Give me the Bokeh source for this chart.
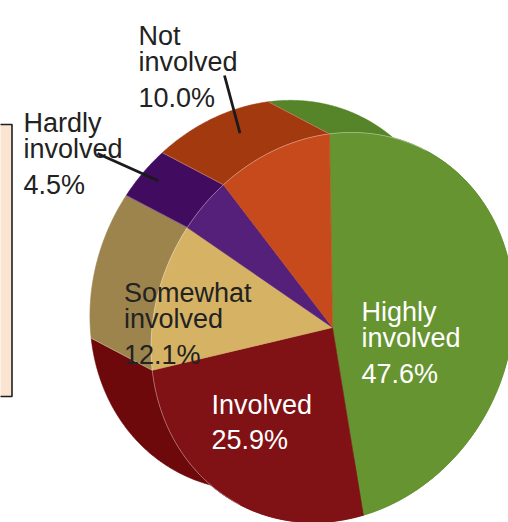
import math
import numpy as np
from bokeh.plotting import figure
from bokeh.models import Range1d, ColumnDataSource
from bokeh.embed import file_html
from bokeh.resources import INLINE
from bokeh.core.properties import value

# ---------------- data ----------------
categories = ["Highly involved", "Involved", "Somewhat involved", "Hardly involved", "Not involved"]
shares = [47.6, 25.9, 12.1, 4.5, 10.0]

# ---------------- style ----------------
top_colors = ["#669430", "#801216", "#D5B264", "#55207A", "#C74A1C"]
side_colors = ["#568428", "#6D090B", "#9C844C", "#410C5F", "#A2390F"]
label_colors = ["#ffffff", "#ffffff", "#222222", "#222222", "#222222"]
# label anchor (x, first baseline) in page pixels
label_pos = [(361, 311), (211, 404), (123.5, 292), (23, 122), (138, 35)]
LINE_GAP = 26.5
PCT_GAP = 35.5
FONT = "Liberation Sans"
FONT_SIZE = "27px"

# 3-D view of the pie (centre, ellipse radii, tilt, depth)
CX, CY = 332.0, 327.0
RA, RB = 200.0, 176.0
TILT = math.radians(27.7)
UX, UY = math.sin(TILT), -math.cos(TILT)
VX, VY = -math.cos(TILT), -math.sin(TILT)
PSI0 = 31.8
DEPTH = 69.0
DX, DY = DEPTH * VX, DEPTH * VY


def face_pt(phi):
    psi = np.radians(PSI0 - np.asarray(phi, dtype=float))
    x = CX + RA * np.cos(psi) * UX + RB * np.sin(psi) * VX
    y = CY + RA * np.cos(psi) * UY + RB * np.sin(psi) * VY
    return x, y


total = float(sum(shares))
cum = np.concatenate([[0.0], np.cumsum(shares)]) * 360.0 / total
starts, ends = cum[:-1], cum[1:]

p = figure(width=508, height=522, output_backend="svg", toolbar_location=None,
           x_range=Range1d(0, 508), y_range=Range1d(522, 0),
           x_axis_location=None, y_axis_location=None, min_border=0)
p.grid.visible = False
p.outline_line_color = None
p.background_fill_color = "#ffffff"
p.border_fill_color = "#ffffff"

# left panel edge (part of a neighbouring box)
p.quad(left=-20, right=11.5, top=124, bottom=396, fill_color="#FAE5D3",
       line_color="#1f1f1f", line_width=1.6)

# sides of the extruded pie
side_xs, side_ys = [], []
for a0, a1 in zip(starts, ends):
    n = max(int((a1 - a0) * 2), 8)
    ph = np.linspace(a0, a1, n)
    fx, fy = face_pt(ph)
    side_xs.append(list(np.concatenate([fx, (fx + DX)[::-1]])))
    side_ys.append(list(np.concatenate([fy, (fy + DY)[::-1]])))
p.patches(side_xs, side_ys, fill_color=side_colors, line_color=side_colors, line_width=0.6)

# faint edges on the side at slice boundaries (visible back half only)
ex0, ey0, ex1, ey1 = [], [], [], []
for b in starts:
    if math.sin(math.radians(PSI0 - b)) > 0:
        bx, by = face_pt(b)
        ex0.append(float(bx)); ey0.append(float(by))
        ex1.append(float(bx + DX)); ey1.append(float(by + DY))
p.segment(ex0, ey0, ex1, ey1, line_color="#ffffff", line_alpha=0.35, line_width=0.8)

# top face
face_xs, face_ys = [], []
for a0, a1 in zip(starts, ends):
    n = max(int((a1 - a0) * 2), 8)
    ph = np.linspace(a0, a1, n)
    fx, fy = face_pt(ph)
    face_xs.append([CX] + list(fx))
    face_ys.append([CY] + list(fy))
p.patches(face_xs, face_ys, fill_color=top_colors, line_color=top_colors, line_width=0.6)

# light rim where the face meets the side
rx, ry = face_pt(np.linspace(PSI0 - 180, PSI0, 240))
p.line(list(rx), list(ry), line_color="#ffffff", line_alpha=0.45, line_width=0.8)

# labels
tx, ty, tt, tc = [], [], [], []
for cat, val, (lx, ly), col in zip(categories, shares, label_pos, label_colors):
    words = cat.split(" ")
    y = ly
    for i, w in enumerate(words):
        if i > 0:
            y += LINE_GAP
        tx.append(lx); ty.append(y); tt.append(w); tc.append(col)
    y += PCT_GAP
    tx.append(lx); ty.append(y); tt.append(f"{val:.1f}%"); tc.append(col)
src = ColumnDataSource(dict(x=tx, y=ty, text=tt, color=tc))
p.text(x="x", y="y", text="text", text_color="color", source=src,
       text_font=value(FONT), text_font_size=FONT_SIZE,
       text_baseline="alphabetic", text_align="left")

# leader lines for the two small outer labels
mid = (starts + ends) / 2.0
lead_start = {4: (224, 75), 3: (97, 153)}
lead_depth = {4: 0.55, 3: 0.75}
lx0, ly0, lx1, ly1 = [], [], [], []
for i, (sx, sy) in lead_start.items():
    mx, my = face_pt(mid[i])
    lx0.append(sx); ly0.append(sy)
    lx1.append(float(mx + lead_depth[i] * DX)); ly1.append(float(my + lead_depth[i] * DY))
p.segment(lx0, ly0, lx1, ly1, line_color="#1a1a1a", line_width=2.8)

open("out.html", "w").write(file_html(p, INLINE))
